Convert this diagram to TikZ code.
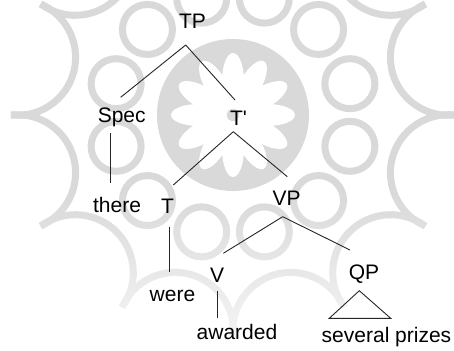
\documentclass[tikz,border=0pt]{standalone}
\usepackage{fontspec}
\setmainfont{Liberation Sans}[Ligatures=TeXOff]
\usetikzlibrary{fadings}
\tikzfading[name=fadedown, top color=transparent!100, bottom color=transparent!20]
\begin{document}
\begin{tikzpicture}[x=1pt,y=-1pt,
  lbl/.style={anchor=base, inner sep=0pt, font=\fontsize{21}{25}\selectfont, text=black},
  edge/.style={line width=0.9pt, draw=black!85},
  orn/.style={draw=gray!30, line width=7pt}]
\useasboundingbox (0,0) rectangle (454,350);
\fill[white] (0,0) rectangle (454,350);
% watermark ornament
\begin{scope}[shift={(233pt,-115pt)}, x=1pt, y=1pt]
  \fill[gray!30] (0,0) circle[radius=76];
  \foreach \a in {0,30,...,330} {
    \fill[white, rotate=\a] (34,0) ellipse[x radius=28, y radius=11];
  }
  \foreach \a in {15,45,...,345} {
    \draw[orn] (\a:223) ++(\a+98.4:58) arc[start angle=\a+98.4, delta angle=163.2, radius=58];
    \draw[orn] (\a:121) circle[radius=25];
  }
\end{scope}
\fill[white, path fading=fadedown] (0,190) rectangle (454,350);
% tree
\node[lbl] (TP) at (192.5,28.5) {TP};
\node[lbl] (Spec) at (121.7,122) {Spec};
\node[lbl] (Tb) at (238.5,125) {T'};
\node[lbl] (there) at (117,212) {there};
\node[lbl] (T) at (167.5,213) {T};
\node[lbl] (VP) at (286.7,205) {VP};
\node[lbl] (were) at (172.5,301) {were};
\node[lbl] (V) at (217,282.5) {V};
\node[lbl] (QP) at (364,279) {QP};
\node[lbl] (awarded) at (237,339.5) {awarded};
\node[lbl] (prizes) at (386.5,342) {several prizes};
\draw[edge] ([shift={(-6.8pt,-16.5pt)}]TP.base) -- ([shift={(-1pt,24.7pt)}]Spec.base);
\draw[edge] ([shift={(-6.8pt,-16.5pt)}]TP.base) -- ([shift={(-3.5pt,25pt)}]Tb.base);
\draw[edge] ([shift={(-11pt,-11.3pt)}]Spec.base) -- ([shift={(-6.3pt,29.3pt)}]there.base);
\draw[edge] ([shift={(-5.2pt,-6.7pt)}]Tb.base) -- ([shift={(5.8pt,28pt)}]T.base);
\draw[edge] ([shift={(-5.2pt,-6.7pt)}]Tb.base) -- ([shift={(0.6pt,28.3pt)}]VP.base);
\draw[edge] ([shift={(1.8pt,-13.7pt)}]T.base) -- ([shift={(-3.2pt,29.3pt)}]were.base);
\draw[edge] ([shift={(-4pt,-11.7pt)}]VP.base) -- ([shift={(6.3pt,29.2pt)}]V.base);
\draw[edge] ([shift={(-4pt,-11.7pt)}]VP.base) -- ([shift={(-14pt,29pt)}]QP.base);
\draw[edge] ([shift={(0.3pt,-8.2pt)}]V.base) -- ([shift={(-19.7pt,21.2pt)}]awarded.base);
\draw[edge, line join=miter] ([shift={(-4.7pt,-11.7pt)}]QP.base) -- ([shift={(-34.7pt,-39.3pt)}]QP.base) -- ([shift={(26.7pt,-39.3pt)}]QP.base) -- cycle;
\end{tikzpicture}
\end{document}
